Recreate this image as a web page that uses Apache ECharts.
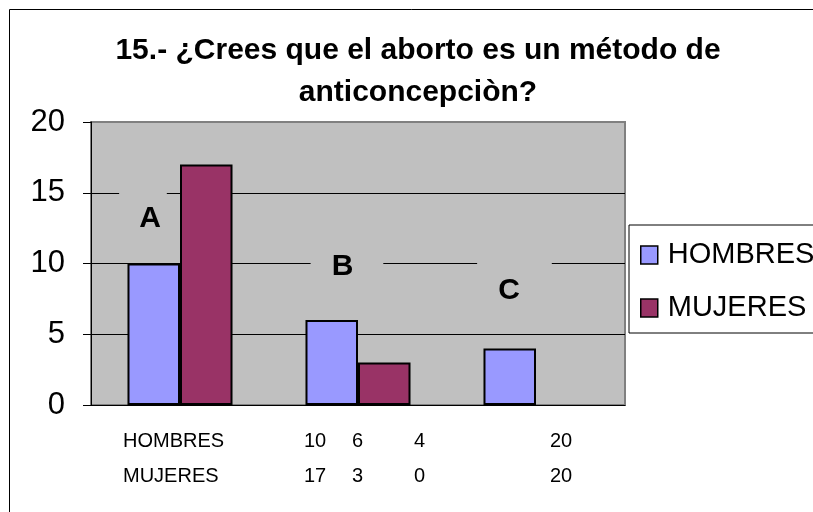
<!DOCTYPE html>
<html>
<head>
<meta charset="utf-8">
<script src="https://cdn.jsdelivr.net/npm/echarts@6/dist/echarts.min.js"></script>
<style>
  html, body { margin: 0; padding: 0; background: #ffffff; }
  #chart { width: 813px; height: 512px; }
</style>
</head>
<body>
<div id="chart"></div>
<script>
// categories and the two answer series
const categories = ['A', 'B', 'C'];
const hombres = [10, 6, 4];
const mujeres = [17, 3, 0];

// where the A/B/C text boxes sit (x on a 0..3 scale over the categories, y in axis units)
const letterX = [0.292, 1.438, 2.379];
const letterY = [13.14, 9.79, 8.09];

// the data table written under the chart
const tableNames = ['HOMBRES', 'MUJERES'];
const tableHombres = [10, 6, 4, 20];
const tableMujeres = [17, 3, 0, 20];

const FONT = 'Liberation Sans, Arial, sans-serif';

const letterPadding = [[16, 6, 16, 20], [16, 30, 16, 21], [16, 32, 16, 21]];

const tableCols = [304, 352, 414, 550];
const tableRowsY = [441.5, 476];

function tableText() {
    const rows = [tableHombres, tableMujeres];
    const out = [];
    rows.forEach((vals, r) => {
        out.push({
            type: 'text', x: 123, y: tableRowsY[r],
            style: { text: tableNames[r], font: '20px ' + FONT, fill: '#000', verticalAlign: 'middle' }
        });
        vals.forEach((v, c) => {
            out.push({
                type: 'text', x: tableCols[c], y: tableRowsY[r],
                style: { text: String(v), font: '20px ' + FONT, fill: '#000', verticalAlign: 'middle' }
            });
        });
    });
    return out;
}

// a zero bar has no outline in the original
function barData(values) {
    return values.map(v => v === 0 ? { value: v, itemStyle: { borderWidth: 0 } } : v);
}

const chart = echarts.init(document.getElementById('chart'));

const option = {
    backgroundColor: '#ffffff',
    animation: false,
    textStyle: { fontFamily: FONT },
    title: {
        text: '15.- ¿Crees que el aborto es un método de\nanticoncepciòn?',
        left: 418,
        top: 30,
        textAlign: 'center',
        padding: 0,
        textStyle: {
            fontFamily: FONT,
            fontSize: 30,
            fontWeight: 'bold',
            color: '#000',
            lineHeight: 42
        }
    },
    legend: {
        orient: 'vertical',
        left: 629,
        top: 225,
        padding: [15, 30, 10, 11],
        itemWidth: 17,
        itemHeight: 18,
        itemGap: 23,
        icon: 'rect',
        backgroundColor: '#ffffff',
        borderColor: '#000',
        borderWidth: 1,
        borderRadius: 0,
        data: ['HOMBRES', 'MUJERES'],
        itemStyle: { borderColor: '#000', borderWidth: 1.5 },
        textStyle: {
            fontFamily: FONT,
            fontSize: 29,
            color: '#000',
            lineHeight: 30,
            padding: [0, 0, 0, 5]
        }
    },
    grid: {
        left: 91,
        top: 122,
        right: 188,
        bottom: 107,
        show: true,
        backgroundColor: '#C0C0C0',
        borderColor: '#808080',
        borderWidth: 2
    },
    xAxis: [{
        type: 'category',
        data: categories,
        axisLine: { lineStyle: { color: '#000', width: 1 } },
        axisTick: { length: 10, lineStyle: { color: '#000' } },
        axisLabel: { show: false },
        splitLine: { show: false }
    }, {
        type: 'value',
        min: 0,
        max: 3,
        show: false
    }],
    yAxis: {
        type: 'value',
        min: 0,
        max: 20,
        interval: 5,
        axisLine: { show: true, lineStyle: { color: '#000', width: 1 } },
        axisTick: { show: true, length: 8, lineStyle: { color: '#000' } },
        axisLabel: { fontSize: 31, color: '#000', margin: 26, fontFamily: FONT },
        splitLine: {
            lineStyle: { color: ['#000', '#000', '#000', '#000', '#808080'], width: 1 }
        }
    },
    series: [{
        name: 'HOMBRES',
        type: 'bar',
        data: barData(hombres),
        barCategoryGap: '41%',
        barGap: '0%',
        itemStyle: { color: '#9999FF', borderColor: '#000', borderWidth: 2 }
    }, {
        name: 'MUJERES',
        type: 'bar',
        data: barData(mujeres),
        itemStyle: { color: '#993366', borderColor: '#000', borderWidth: 2 }
    }, {
        name: 'letters',
        type: 'scatter',
        xAxisIndex: 1,
        symbolSize: 0,
        silent: true,
        z: 5,
        itemStyle: { opacity: 1 },
        data: categories.map((c, i) => ({
            value: [letterX[i], letterY[i]],
            label: { padding: letterPadding[i] }
        })),
        label: {
            show: true,
            position: 'inside',
            formatter: p => categories[p.dataIndex],
            fontFamily: FONT,
            fontSize: 30,
            fontWeight: 'bold',
            color: '#000',
            opacity: 1,
            backgroundColor: '#C0C0C0'
        }
    }],
    graphic: [{
        type: 'rect',
        z: -10,
        shape: { x: 9.5, y: 9.5, width: 900, height: 600 },
        style: { fill: 'none', stroke: '#000', lineWidth: 1 }
    }].concat(tableText())
};

chart.setOption(option);
</script>
</body>
</html>
